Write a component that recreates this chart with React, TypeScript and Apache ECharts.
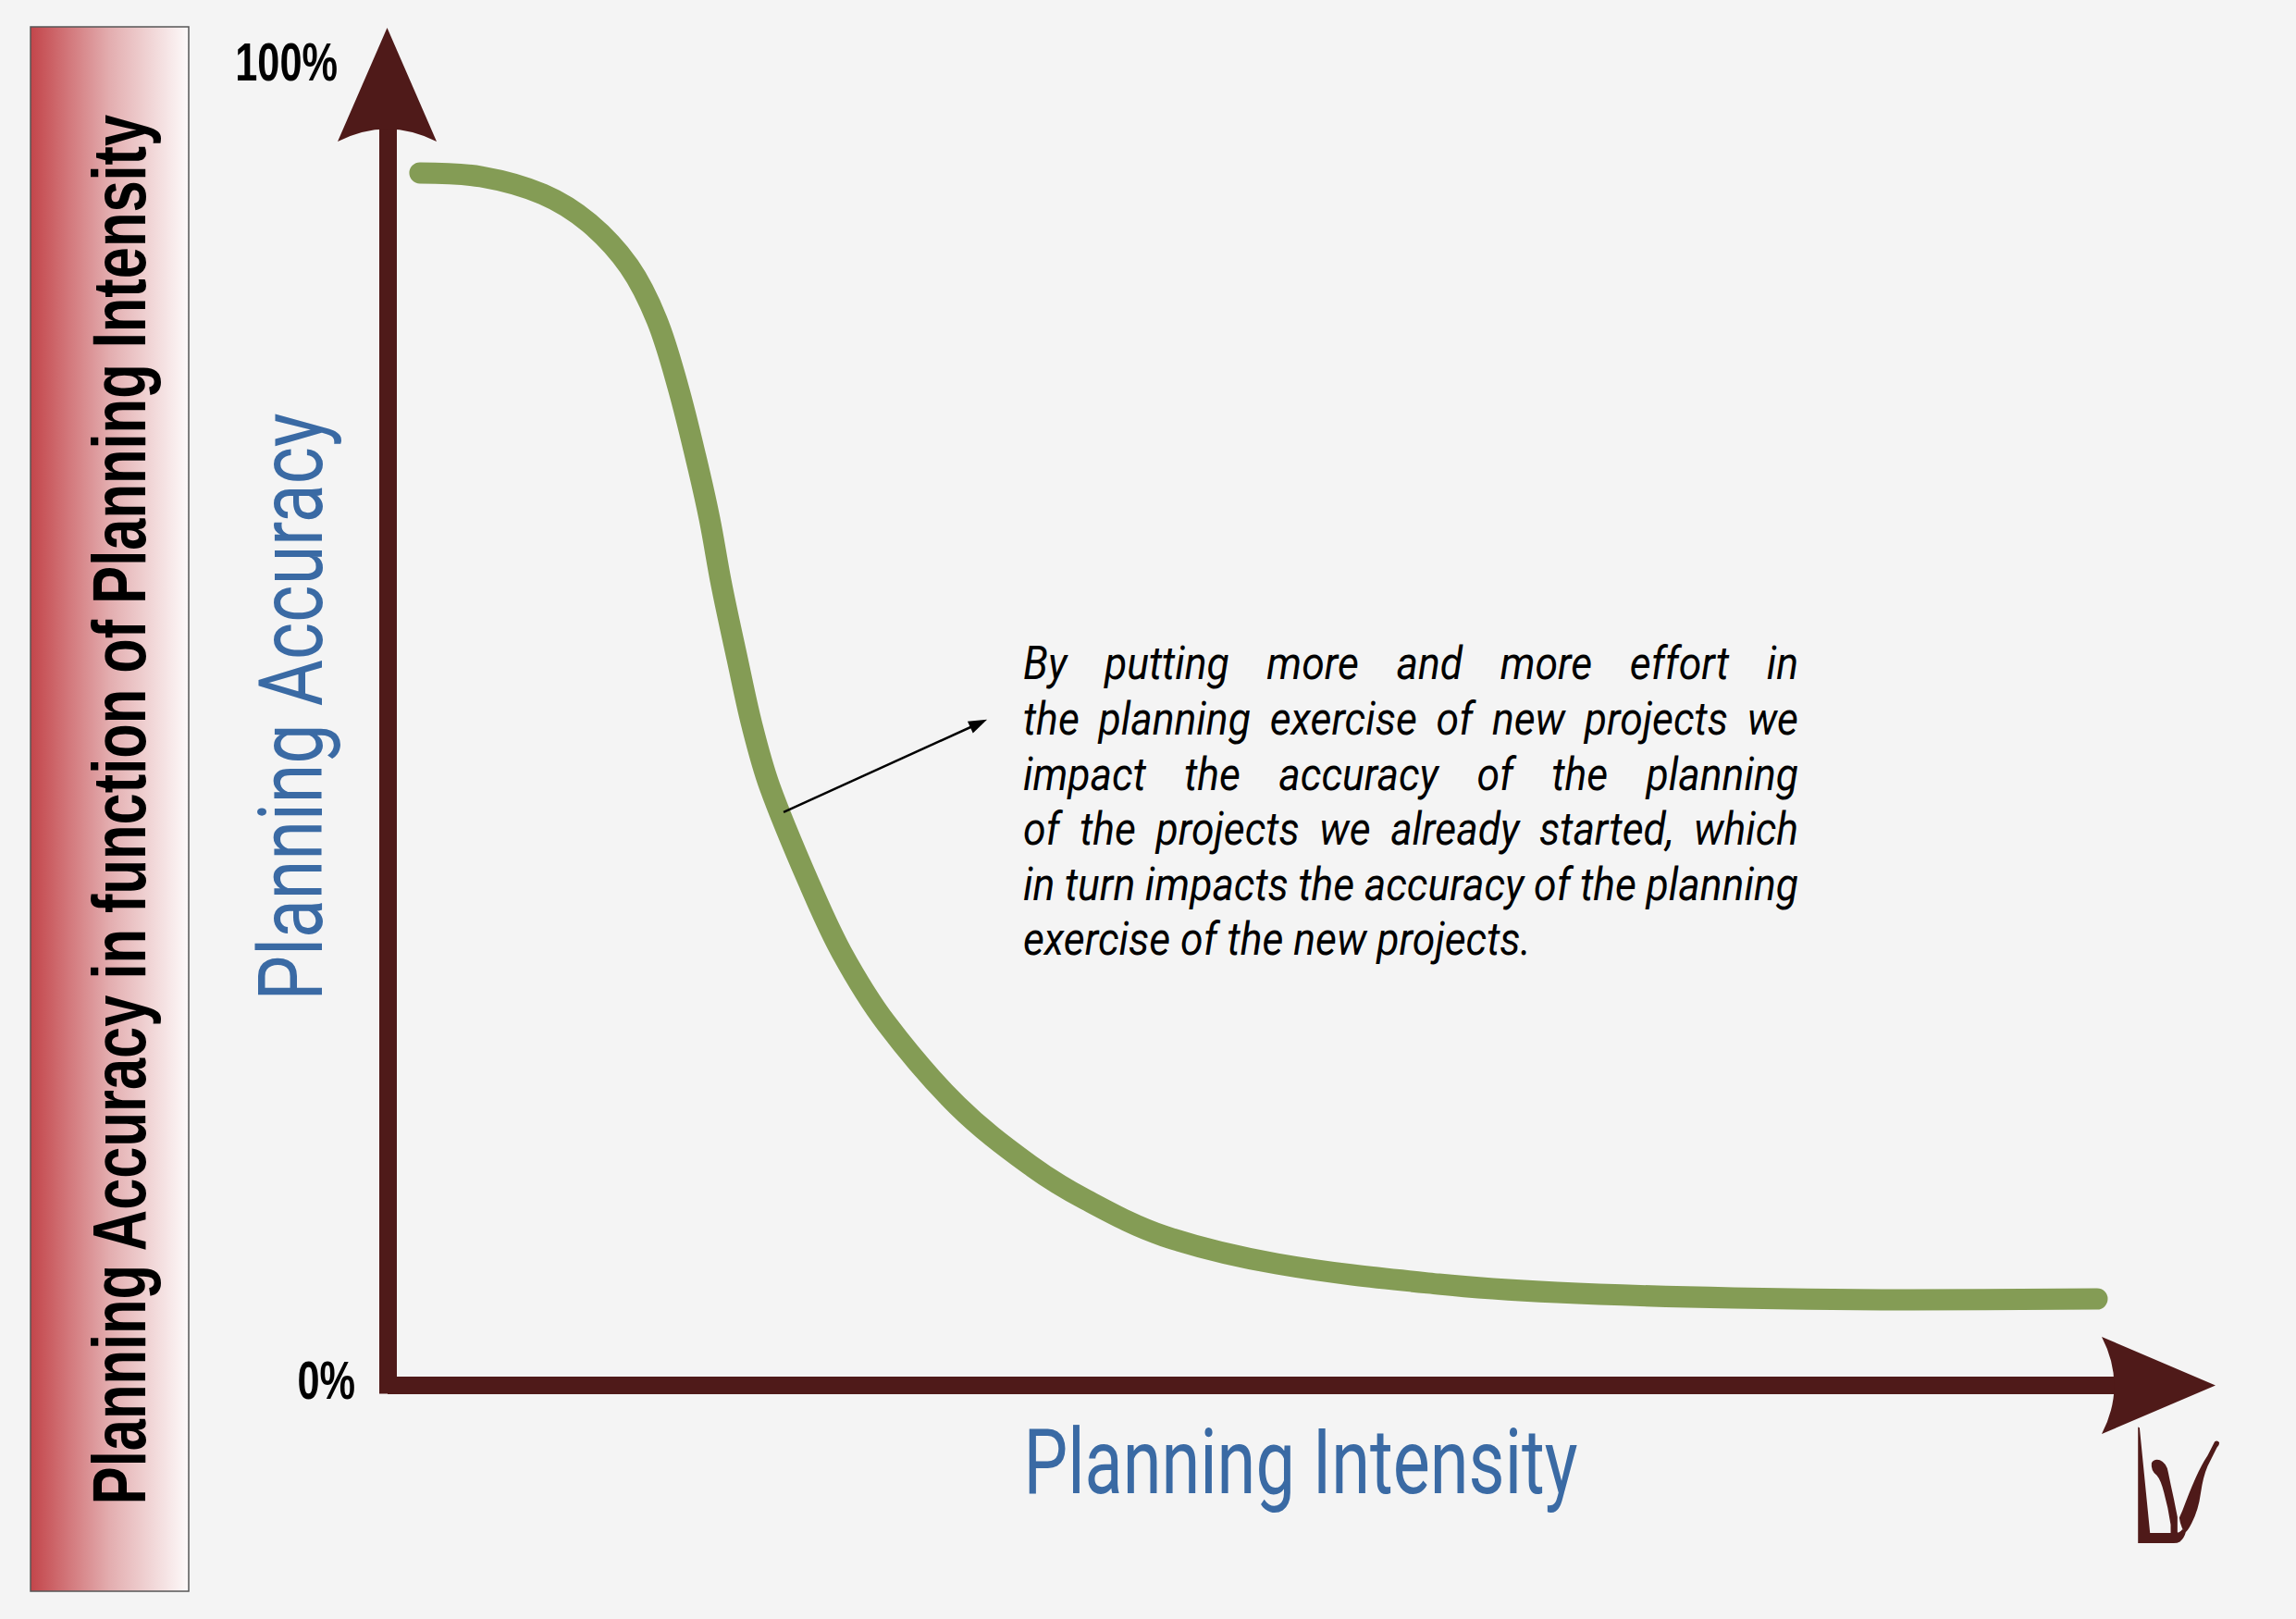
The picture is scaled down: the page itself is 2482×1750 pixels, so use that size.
import React, { useEffect, useRef } from 'react';
import * as echarts from 'echarts';

const W = 2482;
const H = 1750;

// Curve: planning intensity (x, % of axis) vs planning accuracy (y, %)
const intensity = [1.79, 5.18, 8.61, 11.17, 13.38, 14.92, 16.09, 17.12, 17.84, 18.5, 19.37, 20.19, 21.17, 23.32, 25.17, 27.63, 31.57, 35.57, 38.7, 43.0, 49.26, 58.23, 64.79, 74.58, 84.37, 94.72];
const accuracy = [91.61, 91.33, 90.0, 87.83, 84.55, 80.49, 75.45, 69.86, 65.45, 60.49, 54.9, 49.86, 45.24, 38.04, 32.66, 27.34, 21.12, 16.64, 13.99, 11.26, 9.16, 7.62, 6.99, 6.57, 6.43, 6.5];

const tickValues = [0, 100];
const tickLabels = ['0%', '100%'];

const annotationFrom = [21.94, 43.3];
const annotationTo = [32.75, 50.0];
const annotationLines = [
  'By putting more and more effort in',
  'the planning exercise of new projects we',
  'impact the accuracy of the planning',
  'of the projects we already started, which',
  'in turn impacts the accuracy of the planning',
  'exercise of the new projects.',
];

const titleText = 'Planning Accuracy in function of Planning Intensity';
const yAxisTitle = 'Planning Accuracy';
const xAxisTitle = 'Planning Intensity';

const AXIS_COLOR = '#4f1a19';
const CURVE_COLOR = '#849c55';
const BLUE = '#3a6aa4';

const ARROW_UP = 'M418.5 30 L472 153 Q418.5 126 365 153 Z';
const ARROW_RIGHT = 'M2395 1497.5 L2272 1445 Q2299 1497.5 2272 1550 Z';
const LOGO =
  'M334 428 L339 430 L373 772 L455 772 Q470 772 478 760 L490 766 Q484 790 470 800 Q462 805 450 805 L334 805 Z ' +
  'M378 545 Q385 530 405 535 Q428 545 432 575 Q440 615 450 660 Q458 700 462 720 L462 772 L440 772 L440 745 Q432 690 418 640 Q408 600 395 585 Q375 570 378 545 Z ' +
  'M583 475 Q592 470 598 478 Q598 488 590 495 L560 555 Q545 590 538 640 Q530 700 508 740 Q498 760 490 768 L478 758 Q470 740 468 722 L478 700 Q500 640 520 595 Q540 550 560 520 Z';

echarts.graphic.registerShape('axisArrowUp', echarts.graphic.extendPath(ARROW_UP, {}) as any);
echarts.graphic.registerShape('axisArrowRight', echarts.graphic.extendPath(ARROW_RIGHT, {}) as any);
echarts.graphic.registerShape('brandLogo', echarts.graphic.extendPath(LOGO, {}) as any);

let measureCtx: CanvasRenderingContext2D | null = null;
function measure(text: string, font: string): number {
  if (!measureCtx) measureCtx = document.createElement('canvas').getContext('2d');
  measureCtx!.font = font;
  return measureCtx!.measureText(text).width;
}

function textEl(opts: {
  text: string; x: number; y: number; size: number; family: string; weight?: any; fstyle?: string;
  fill: string; align: string; rotation?: number; scaleX?: number; vAlign?: string;
}) {
  return {
    type: 'text',
    x: opts.x,
    y: opts.y,
    rotation: opts.rotation || 0,
    scaleX: opts.scaleX || 1,
    z: 20,
    silent: true,
    style: {
      text: opts.text,
      fontSize: opts.size,
      fontFamily: opts.family,
      fontWeight: opts.weight || 'normal',
      fontStyle: opts.fstyle || 'normal',
      fill: opts.fill,
      align: opts.align,
      textAlign: opts.align,
      verticalAlign: opts.vAlign || 'middle',
      textVerticalAlign: opts.vAlign || 'middle',
    },
  };
}

export default function App() {
  const ref = useRef<HTMLDivElement>(null);

  useEffect(() => {
    if (!ref.current) return;
    const chart = echarts.init(ref.current, null, { renderer: 'svg', width: W, height: H });

    chart.setOption({
      animation: false,
      backgroundColor: '#f4f4f4',
      grid: { left: 419, right: 112, top: 67, bottom: 253 },
      xAxis: {
        type: 'value', min: 0, max: 100,
        axisLine: { show: true, lineStyle: { color: AXIS_COLOR, width: 19, cap: 'butt' } },
        axisTick: { show: false }, axisLabel: { show: false }, splitLine: { show: false },
      },
      yAxis: {
        type: 'value', min: 0, max: 100,
        axisLine: { show: true, lineStyle: { color: AXIS_COLOR, width: 19, cap: 'square' } },
        axisTick: { show: false }, axisLabel: { show: false }, splitLine: { show: false },
      },
      series: [
        {
          type: 'line',
          data: intensity.map((x, i) => [x, accuracy[i]]),
          smooth: 0.35,
          showSymbol: false,
          symbol: 'none',
          lineStyle: { color: CURVE_COLOR, width: 23, cap: 'round', join: 'round' },
          z: 3,
          markLine: {
            silent: true,
            animation: false,
            symbol: ['none', 'triangle'],
            symbolSize: [14, 20],
            label: { show: false },
            lineStyle: { color: '#000', width: 2.5, type: 'solid' },
            data: [[{ coord: annotationFrom }, { coord: annotationTo }]],
          },
        },
      ],
    });

    const els: any[] = [];

    // left gradient panel
    els.push({
      type: 'rect', z: 5, silent: true,
      shape: { x: 33, y: 29, width: 171, height: 1691 },
      style: {
        fill: new echarts.graphic.LinearGradient(0, 0, 1, 0, [
          { offset: 0, color: '#c3454a' },
          { offset: 0.5, color: '#e3adaf' },
          { offset: 1, color: '#fdfafa' },
        ]),
        stroke: '#555555', lineWidth: 1.5,
      },
    });

    // rotated title
    const titleFont = 'bold 82px "Liberation Sans"';
    const sT = 1505 / measure(titleText, titleFont);
    els.push(textEl({ text: titleText, x: 128, y: 875, size: 82, family: '"Liberation Sans"', weight: 'bold', fill: '#000', align: 'center', rotation: Math.PI / 2, scaleX: sT }));

    // axis titles (blue)
    const yFont = '400 96px Roboto';
    const sY = 635 / measure(yAxisTitle, yFont);
    els.push(textEl({ text: yAxisTitle, x: 315, y: 764, size: 96, family: 'Roboto', weight: 400, fill: BLUE, align: 'center', rotation: Math.PI / 2, scaleX: sY }));
    const xFont = '400 98px Roboto';
    const sX = 599 / measure(xAxisTitle, xFont);
    els.push(textEl({ text: xAxisTitle, x: 1406, y: 1580, size: 98, family: 'Roboto', weight: 400, fill: BLUE, align: 'center', scaleX: sX }));

    // tick labels
    const labelRight = [384, 365];
    const labelShift = [-5, 0];
    tickValues.forEach((v, i) => {
      const py = chart.convertToPixel({ yAxisIndex: 0 } as any, v) as number;
      els.push(textEl({ text: tickLabels[i], x: labelRight[i], y: py + labelShift[i], size: 57, family: '"Liberation Sans"', weight: 'bold', fill: '#000', align: 'right', scaleX: 0.76 }));
    });

    // annotation paragraph (justified)
    const aSize = 50;
    const aFont = `italic 400 ${aSize}px Roboto`;
    const left = 1106;
    const boxW = 838;
    const sA = 549 / measure(annotationLines[annotationLines.length - 1], aFont);
    annotationLines.forEach((line, i) => {
      const y = 735 + 59.6 * i - 17.5;
      if (i === annotationLines.length - 1) {
        els.push(textEl({ text: line, x: left, y, size: aSize, family: 'Roboto', weight: 400, fstyle: 'italic', fill: '#000', align: 'left', scaleX: sA }));
        return;
      }
      const words = line.split(' ');
      const ws = words.map((w) => measure(w, aFont) * sA);
      const total = ws.reduce((a, b) => a + b, 0);
      const gap = (boxW - total) / (words.length - 1);
      let x = left;
      words.forEach((w, j) => {
        els.push(textEl({ text: w, x, y, size: aSize, family: 'Roboto', weight: 400, fstyle: 'italic', fill: '#000', align: 'left', scaleX: sA }));
        x += ws[j] + gap;
      });
    });

    // axis arrowheads
    els.push({ type: 'axisArrowUp', x: 0, y: 0, z: 30, silent: true, style: { fill: AXIS_COLOR } });
    els.push({ type: 'axisArrowRight', x: 0, y: 0, z: 30, silent: true, style: { fill: AXIS_COLOR } });

    // logo
    els.push({ type: 'brandLogo', x: 2200, y: 1400, scaleX: 1 / 3, scaleY: 1 / 3, z: 30, silent: true, style: { fill: AXIS_COLOR } });

    chart.setOption({ graphic: { elements: els } });

    return () => chart.dispose();
  }, []);

  return <div ref={ref} style={{ position: 'fixed', left: 0, top: 0, width: W, height: H }} />;
}
